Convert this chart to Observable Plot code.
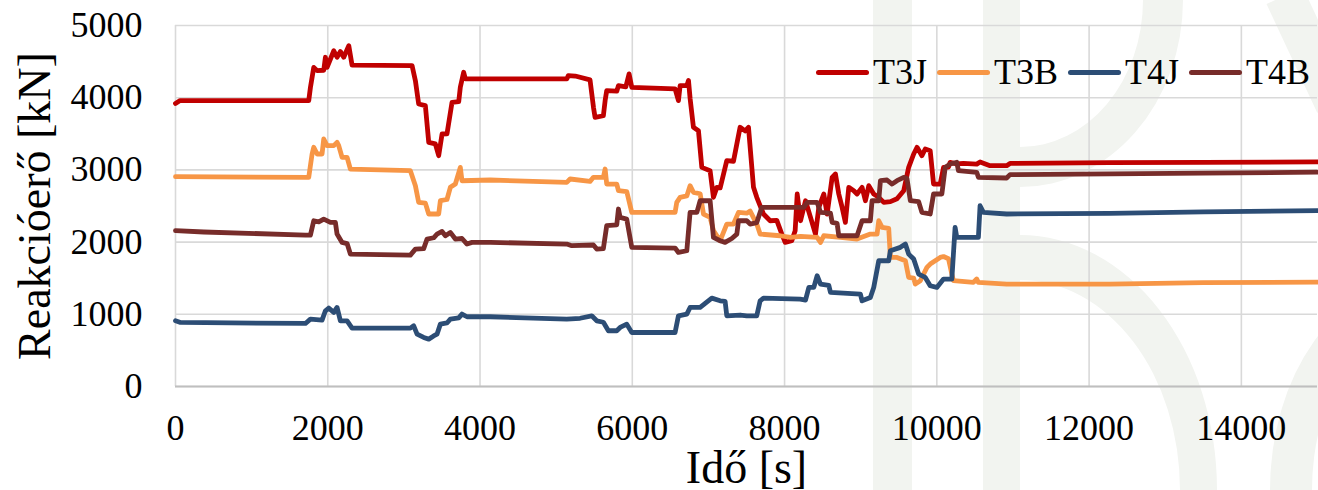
<!DOCTYPE html>
<html>
<head>
<meta charset="utf-8">
<script src="https://cdn.jsdelivr.net/npm/d3@7"></script>
<script src="https://cdn.jsdelivr.net/npm/@observablehq/plot@0.6"></script>
<style>
  html, body { margin: 0; padding: 0; background: #fff; }
  #wrap { position: relative; width: 1318px; height: 490px; overflow: hidden; font-family: "Liberation Serif", "Times New Roman", serif; }
  .wm { position: absolute; background: #f2f4f0; }
  .ring { position: absolute; border-style: solid; border-color: #f2f4f0; border-radius: 50%; box-sizing: border-box; background: transparent; }
  #chart { position: absolute; left: 0; top: 0; }
  #legend { position: absolute; left: 816px; top: 50px; height: 44px; display: flex; align-items: center; font-size: 36px; color: #000; white-space: nowrap; }
  #legend .sw { width: 53px; height: 5px; border-radius: 3px; margin-left: 10px; }
  #legend .sw:first-child { margin-left: 0; }
  #legend .lb { margin-left: 4px; line-height: 1; }
</style>
</head>
<body>
<div id="wrap">
  <div class="wm" style="left:873px;top:0;width:39px;height:490px"></div>
  <div class="wm" style="left:983px;top:0;width:37px;height:490px"></div>
  <div class="ring" style="left:857px;top:-187px;width:326px;height:374px;border-width:40px;clip-path:inset(187px 0 0 163px)"></div>
  <div class="ring" style="left:823px;top:235px;width:394px;height:510px;border-width:45px 37px;clip-path:inset(0 0 255px 197px)"></div>
  <div class="ring" style="left:1270px;top:280px;width:300px;height:420px;border-width:42px;clip-path:inset(0 150px 210px 0)"></div>
  <div class="wm" style="left:1290px;top:-10px;width:40px;height:120px;transform:rotate(-25deg)"></div>
  <div id="chart"></div>
  <div id="legend"></div>
</div>
<script>
// ---- data (time [s], reaction force [kN]) ----
const seriesNames = ["T3J", "T3B", "T4J", "T4B"];
const seriesColors = ["#c00000", "#f79646", "#2c4d75", "#772c2a"];
const xTicks = [0, 2000, 4000, 6000, 8000, 10000, 12000, 14000];
const yTicks = [0, 1000, 2000, 3000, 4000, 5000];

const T3J = [[0,3920],[60,3960],[1750,3960],[1772,4140],[1816,4420],[1860,4375],[1947,4380],[1969,4560],[1991,4420],[2079,4650],[2122,4560],[2166,4640],[2210,4560],[2276,4720],[2319,4450],[3107,4445],[3151,4236],[3194,3913],[3282,3890],[3326,3382],[3413,3360],[3457,3197],[3501,3497],[3566,3500],[3632,3936],[3720,3945],[3741,4144],[3785,4352],[3807,4260],[5139,4260],[5160,4306],[5250,4300],[5445,4246],[5490,3867],[5511,3728],[5620,3750],[5643,3959],[5664,4098],[5796,4090],[5818,4167],[5915,4150],[5958,4329],[5993,4144],[6562,4121],[6606,3959],[6628,4167],[6716,4167],[6738,4237],[6760,3982],[6803,3590],[6869,3543],[6913,3035],[7022,2989],[7066,2620],[7110,2758],[7154,2750],[7241,3128],[7329,3120],[7373,3359],[7416,3590],[7482,3540],[7526,3590],[7592,2758],[7635,2620],[7723,2389],[7811,2296],[7898,2300],[7964,2111],[8008,1996],[8095,2020],[8139,2157],[8166,2666],[8210,2296],[8275,2573],[8341,2342],[8406,2111],[8450,2481],[8515,2666],[8559,2389],[8625,2897],[8668,2943],[8712,2666],[8756,2481],[8799,2273],[8843,2758],[8909,2712],[8952,2666],[9018,2758],[9062,2573],[9106,2781],[9171,2666],[9237,2620],[9303,2550],[9390,2560],[9477,2600],[9565,2712],[9630,3035],[9696,3220],[9740,3313],[9804,3197],[9848,3290],[9913,3266],[9957,2804],[10044,2804],[10088,3035],[10153,3040],[10175,3105],[10262,3082],[10349,3090],[10524,3080],[10568,3110],[10699,3058],[10917,3058],[10961,3090],[12271,3100],[13500,3105],[15000,3110]];

const T3B = [[0,2906],[1750,2897],[1794,3220],[1816,3313],[1860,3220],[1925,3220],[1947,3428],[1991,3336],[2079,3336],[2122,3382],[2144,3336],[2188,3174],[2254,3174],[2297,3012],[3085,2989],[3151,2781],[3194,2550],[3282,2540],[3326,2389],[3457,2389],[3479,2573],[3566,2590],[3610,2758],[3676,2804],[3741,3035],[3763,2850],[4135,2860],[5139,2827],[5183,2874],[5445,2840],[5489,2897],[5620,2897],[5643,3012],[5664,2804],[5796,2804],[5818,2712],[5927,2700],[5993,2412],[6562,2412],[6584,2550],[6628,2620],[6716,2640],[6759,2781],[6803,2690],[6891,2670],[6935,2389],[7022,2342],[7066,2158],[7154,2019],[7241,2250],[7329,2250],[7395,2412],[7504,2400],[7548,2430],[7635,2250],[7679,2111],[7942,2088],[8079,2065],[8210,2080],[8428,2065],[8472,1996],[8515,2088],[8734,2065],[8952,2042],[9127,2111],[9215,2111],[9237,2296],[9281,2204],[9368,2190],[9390,1788],[9477,1788],[9587,1742],[9630,1511],[9696,1500],[9717,1418],[9783,1465],[9870,1649],[9913,1696],[10044,1788],[10088,1800],[10153,1770],[10197,1557],[10219,1465],[10480,1441],[10524,1490],[10546,1441],[10917,1418],[12271,1418],[13500,1440],[15000,1445]];

const T4J = [[0,910],[65,887],[1707,873],[1772,933],[1925,920],[1969,1049],[2013,1086],[2079,1026],[2122,1095],[2166,910],[2254,910],[2319,808],[3085,808],[3129,841],[3173,725],[3260,679],[3326,656],[3391,700],[3435,725],[3479,864],[3566,880],[3610,933],[3720,950],[3763,1003],[3829,966],[4135,966],[5139,933],[5314,945],[5467,979],[5533,910],[5620,890],[5686,772],[5796,772],[5840,818],[5927,864],[5993,748],[6562,748],[6606,979],[6716,1003],[6759,1095],[6891,1095],[7044,1224],[7154,1187],[7219,1180],[7241,979],[7416,990],[7504,979],[7635,979],[7679,1187],[7723,1224],[8205,1210],[8275,1197],[8319,1372],[8384,1372],[8428,1534],[8472,1418],[8581,1400],[8603,1303],[8996,1280],[9018,1187],[9127,1234],[9171,1372],[9237,1742],[9368,1742],[9390,1880],[9521,1927],[9587,1973],[9630,1834],[9696,1765],[9761,1557],[9848,1511],[9913,1395],[10000,1372],[10088,1488],[10197,1488],[10240,2204],[10262,2065],[10546,2065],[10568,2504],[10612,2412],[10917,2389],[12271,2398],[13500,2420],[15000,2435]];

const T4B = [[0,2158],[372,2140],[1707,2097],[1772,2097],[1816,2296],[1882,2280],[1947,2319],[2035,2273],[2100,2273],[2122,2111],[2188,1996],[2254,1980],[2297,1834],[3085,1820],[3151,1903],[3260,1910],[3304,2042],[3391,2060],[3435,2111],[3501,2148],[3545,2088],[3610,2134],[3676,2042],[3763,2050],[3829,1973],[3895,1996],[4135,1996],[5139,1973],[5205,1950],[5489,1960],[5533,1903],[5620,1910],[5664,2227],[5796,2240],[5818,2458],[5840,2342],[5927,2319],[5993,1927],[6562,1917],[6606,1857],[6716,1880],[6759,2412],[6848,2412],[6891,2573],[7022,2573],[7066,2065],[7154,2019],[7219,1996],[7307,2050],[7373,2111],[7395,2296],[7504,2296],[7548,2250],[7635,2270],[7701,2481],[8253,2481],[8297,2550],[8428,2550],[8472,2412],[8603,2400],[8625,2273],[8690,2260],[8712,2088],[8952,2088],[9018,2296],[9127,2296],[9149,2573],[9237,2573],[9259,2850],[9346,2860],[9412,2804],[9477,2850],[9565,2897],[9608,2880],[9652,2573],[9761,2560],[9804,2412],[9913,2389],[9957,2666],[10066,2666],[10110,3035],[10175,3082],[10262,3105],[10284,2989],[10524,2966],[10546,2897],[10917,2888],[10961,2934],[12271,2945],[13500,2955],[15000,2968]];

const xLabel = "Idő [s]";
const yLabel = "Reakcióerő [kN]";

// ---- build table ----
const seriesData = {T3J, T3B, T4J, T4B};
const rows = seriesNames.flatMap(name => seriesData[name].map(([t, v]) => ({series: name, t, v})));

const chart = Plot.plot({
  width: 1318,
  height: 490,
  marginLeft: 175,
  marginRight: 1,
  marginTop: 25,
  marginBottom: 104,
  style: {fontFamily: "'Liberation Serif', 'Times New Roman', serif", fontSize: "36px", background: "transparent", color: "#000", overflow: "visible"},
  x: {domain: [0, 15000]},
  y: {domain: [0, 5000]},
  color: {domain: seriesNames, range: seriesColors},
  marks: [
    Plot.gridY(yTicks, {stroke: "#d9d9d9", strokeOpacity: 1, strokeWidth: 1.6}),
    Plot.gridX(xTicks, {stroke: "#d9d9d9", strokeOpacity: 1, strokeWidth: 1.6}),
    Plot.ruleY([0], {stroke: "#bfbfbf", strokeWidth: 2}),
    Plot.axisY(yTicks, {tickSize: 0, tickPadding: 33, label: null, tickFormat: d => String(d), fill: "#000"}),
    Plot.axisX(xTicks, {tickSize: 0, tickPadding: 28, label: null, tickFormat: d => String(d), fill: "#000"}),
    Plot.line(rows, {x: "t", y: "v", z: "series", stroke: "series", strokeWidth: 4.8, strokeLinejoin: "round", strokeLinecap: "round"}),
    Plot.text([xLabel], {frameAnchor: "bottom", dy: 82, fontSize: 46, fill: "#000", textAnchor: "middle", lineAnchor: "middle"}),
    Plot.text([yLabel], {frameAnchor: "left", dx: -140, rotate: -90, fontSize: 46, fill: "#000", textAnchor: "middle", lineAnchor: "middle"})
  ]
});
document.getElementById("chart").appendChild(chart);

// ---- legend ----
const legend = document.getElementById("legend");
seriesNames.forEach((name, i) => {
  const sw = document.createElement("span");
  sw.className = "sw";
  sw.style.background = seriesColors[i];
  legend.appendChild(sw);
  const lb = document.createElement("span");
  lb.className = "lb";
  lb.textContent = name;
  legend.appendChild(lb);
});
</script>
</body>
</html>
